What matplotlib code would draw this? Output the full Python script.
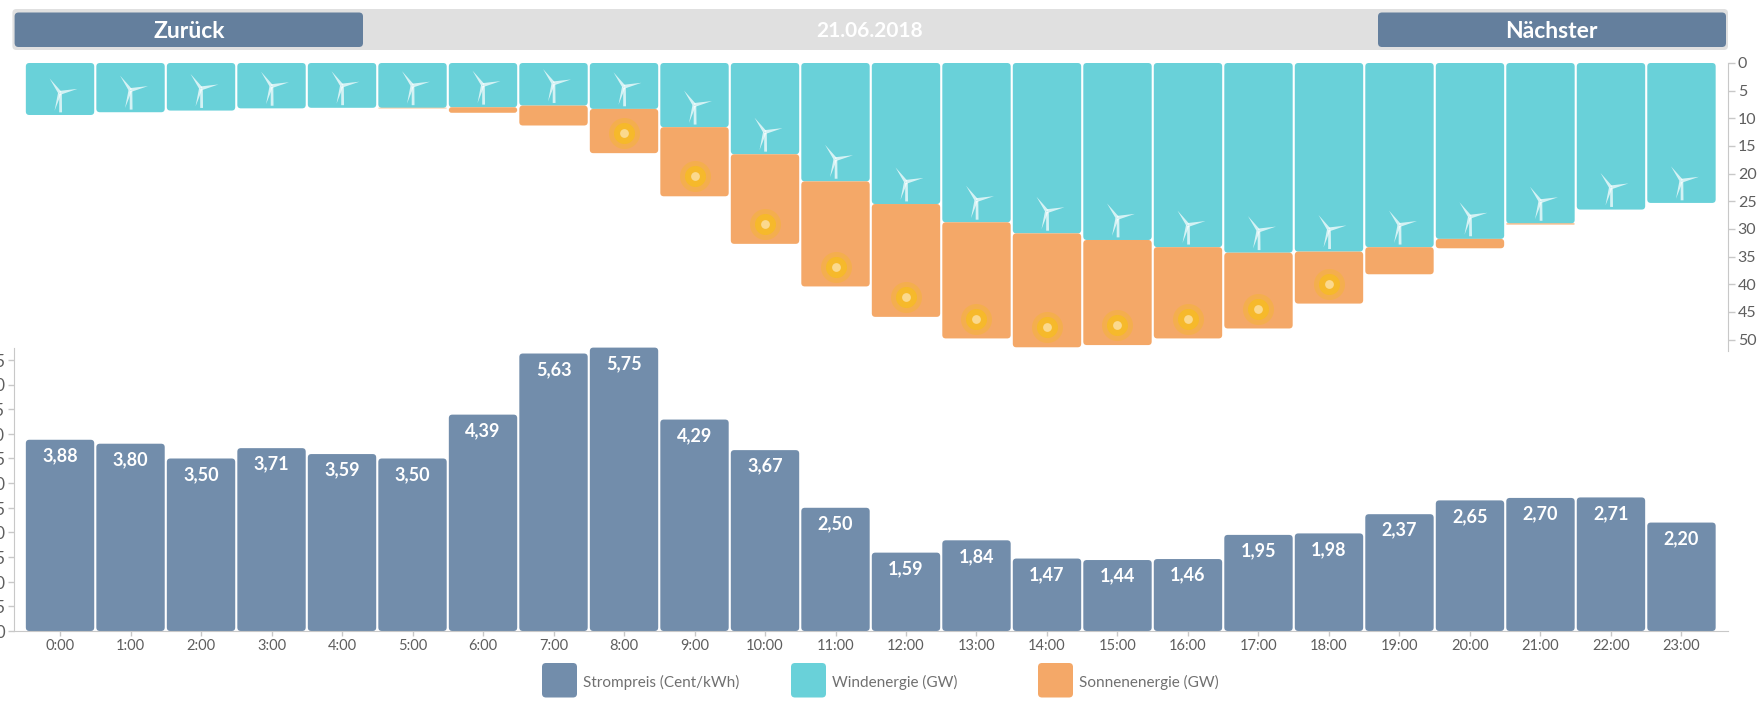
import matplotlib
matplotlib.use("Agg")
import matplotlib.pyplot as plt
from matplotlib.patches import FancyBboxPatch, Polygon
from matplotlib.transforms import Affine2D

plt.rcParams['font.family'] = ['Lato', 'Roboto', 'DejaVu Sans']

# Daten
stunden = ["%d:00" % h for h in range(24)]
strompreis = [3.88, 3.80, 3.50, 3.71, 3.59, 3.50, 4.39, 5.63, 5.75, 4.29, 3.67, 2.50,
              1.59, 1.84, 1.47, 1.44, 1.46, 1.95, 1.98, 2.37, 2.65, 2.70, 2.71, 2.20]
preis_labels = ["3,88", "3,80", "3,50", "3,71", "3,59", "3,50", "4,39", "5,63", "5,75", "4,29", "3,67", "2,50",
                "1,59", "1,84", "1,47", "1,44", "1,46", "1,95", "1,98", "2,37", "2,65", "2,70", "2,71", "2,20"]
wind = [9.4, 8.9, 8.6, 8.2, 8.1, 8.1, 8.0, 7.7, 8.3, 11.6, 16.5, 21.4,
        25.5, 28.8, 30.8, 32.0, 33.3, 34.3, 34.1, 33.3, 31.8, 29.0, 26.5, 25.3]
sonne = [0, 0, 0, 0, 0, 0.1, 1.0, 3.6, 8.0, 12.5, 16.2, 19.0,
         20.4, 21.0, 20.6, 19.0, 16.5, 13.7, 9.4, 4.9, 1.7, 0.2, 0, 0]
preis_ticks = [0.5 * i for i in range(12)]
preis_ticklabels = [("%.1f" % t).replace(".", ",") if t else "0" for t in preis_ticks]
energie_ticks = list(range(0, 51, 5))

TEAL = "#69D1D9"
ORANGE = "#F4A868"
BLAU = "#728DAB"
BUTTON = "#647F9D"
GRAU = "#5E5E5E"
LINIE = "#C8C8C8"

W, H = 1764, 703
fig = plt.figure(figsize=(W / 100, H / 100), dpi=100, facecolor="white")


def axes_px(links, oben, rechts, unten):
    return fig.add_axes([links / W, 1 - unten / H, (rechts - links) / W, (unten - oben) / H])


def balken(ax, x, y0, y1, farbe, breite=0.97, radius=0.05, seitenverh=12.8):
    hoehe = abs(y1 - y0)
    # Rundung nicht groesser als der Balken selbst
    r = min(radius, hoehe / seitenverh / 2)
    p = FancyBboxPatch((x - breite / 2, min(y0, y1)), breite, hoehe,
                       boxstyle="round,pad=0,rounding_size=%f" % r,
                       mutation_aspect=seitenverh, fc=farbe, ec="none", clip_on=False)
    ax.add_patch(p)


def windrad(ax, x, y):
    # Windrad in Pixeln um die Nabe
    hx, hy = ax.transData.transform((x, y))
    tr = Affine2D().translate(hx, hy)
    teile = [
        [(-1.5, -1), (1.5, 1), (-10.5, 14.5)],
        [(-0.5, 2), (0, -2), (17.5, 4)],
        [(-2, 0), (1.2, -1), (-5.5, -18)],
        [(-0.8, -1), (1.8, -1), (2, -19.5), (-0.8, -19.5)],
    ]
    for t in teile:
        ax.add_patch(Polygon(t, closed=True, fc="white", ec="none", alpha=0.72,
                             transform=tr, clip_on=False, zorder=5))


# Oberes Diagramm: Wind und Sonne
ax_top = axes_px(13.5, 63, 1728, 350.6)
ax_top.set_xlim(-0.66, 23.66)
ax_top.set_ylim(52, 0)
ax_top.patch.set_alpha(0)
for i in range(24):
    balken(ax_top, i, 0, wind[i], TEAL)
    if sonne[i] > 0:
        balken(ax_top, i, wind[i], wind[i] + sonne[i], ORANGE)
    windrad(ax_top, i, wind[i] - 4.0)
    if i >= 8 and i <= 18:
        y_sonne = wind[i] + sonne[i] - 3.6
        ax_top.scatter(i, y_sonne, s=500, color="#F6B62F", alpha=0.45, linewidths=0, zorder=5)
        ax_top.scatter(i, y_sonne, s=230, color="#F6B92B", linewidths=0, zorder=6)
        ax_top.scatter(i, y_sonne, s=40, color="#FBD98E", linewidths=0, zorder=7)
ax_top.yaxis.tick_right()
ax_top.set_yticks(energie_ticks)
ax_top.set_xticks([])
ax_top.tick_params(axis="y", length=5, width=1, color=LINIE, labelcolor=GRAU, labelsize=11.5, pad=2)
for s in ["top", "left", "bottom"]:
    ax_top.spines[s].set_visible(False)
ax_top.spines["right"].set_color(LINIE)

# Unteres Diagramm: Strompreis
ax_bot = axes_px(13.5, 347.6, 1728, 631)
ax_bot.set_xlim(-0.66, 23.66)
ax_bot.set_ylim(0, 5.75)
ax_bot.patch.set_alpha(0)
for i in range(24):
    balken(ax_bot, i, 0, strompreis[i], BLAU, seitenverh=70.5 / 49.3)
    ax_bot.annotate(preis_labels[i], (i, strompreis[i]), xytext=(0, -16), textcoords="offset pixels",
                    ha="center", va="center", color="white", fontsize=13, fontweight="bold", zorder=6)
ax_bot.set_xticks(range(24))
ax_bot.set_xticklabels(stunden)
ax_bot.set_yticks(preis_ticks)
ax_bot.set_yticklabels(preis_ticklabels)
ax_bot.tick_params(axis="x", length=3.6, width=1, color=LINIE, labelcolor=GRAU, labelsize=10.5, pad=2)
ax_bot.tick_params(axis="y", length=4, width=1, color=LINIE, labelcolor=GRAU, labelsize=12, pad=2)
for s in ["top", "right"]:
    ax_bot.spines[s].set_visible(False)
ax_bot.spines["left"].set_color(LINIE)
ax_bot.spines["bottom"].set_color(LINIE)

# Kopfzeile und Legende in Pixelkoordinaten
ov = fig.add_axes([0, 0, 1, 1], zorder=-1)
ov.set_xlim(0, W)
ov.set_ylim(H, 0)
ov.axis("off")


def kasten(x0, y0, x1, y1, farbe, r=4):
    ov.add_patch(FancyBboxPatch((x0, y0), x1 - x0, y1 - y0, boxstyle="round,pad=0,rounding_size=%f" % r,
                                fc=farbe, ec="none"))


kasten(12.4, 9, 1728, 50, "#E0E0E0")
kasten(14.6, 12.5, 363, 47, BUTTON)
kasten(1378, 12.5, 1726, 47, BUTTON)
ov.text(189, 31, "Zurück", color="white", fontsize=16.5, fontweight="bold", ha="center", va="center")
ov.text(1551, 31, "Nächster", color="white", fontsize=16.5, fontweight="bold", ha="center", va="center")
ov.text(870, 31, "21.06.2018", color="white", fontsize=15, fontweight="bold", ha="center", va="center")

legende = [(542, BLAU, "Strompreis (Cent/kWh)"), (791, TEAL, "Windenergie (GW)"), (1038, ORANGE, "Sonnenenergie (GW)")]
for x, farbe, text in legende:
    kasten(x, 663, x + 35, 697.5, farbe)
    ov.text(x + 41, 682, text, color="#707070", fontsize=11, ha="left", va="center")

fig.savefig("out.png", dpi=100)
